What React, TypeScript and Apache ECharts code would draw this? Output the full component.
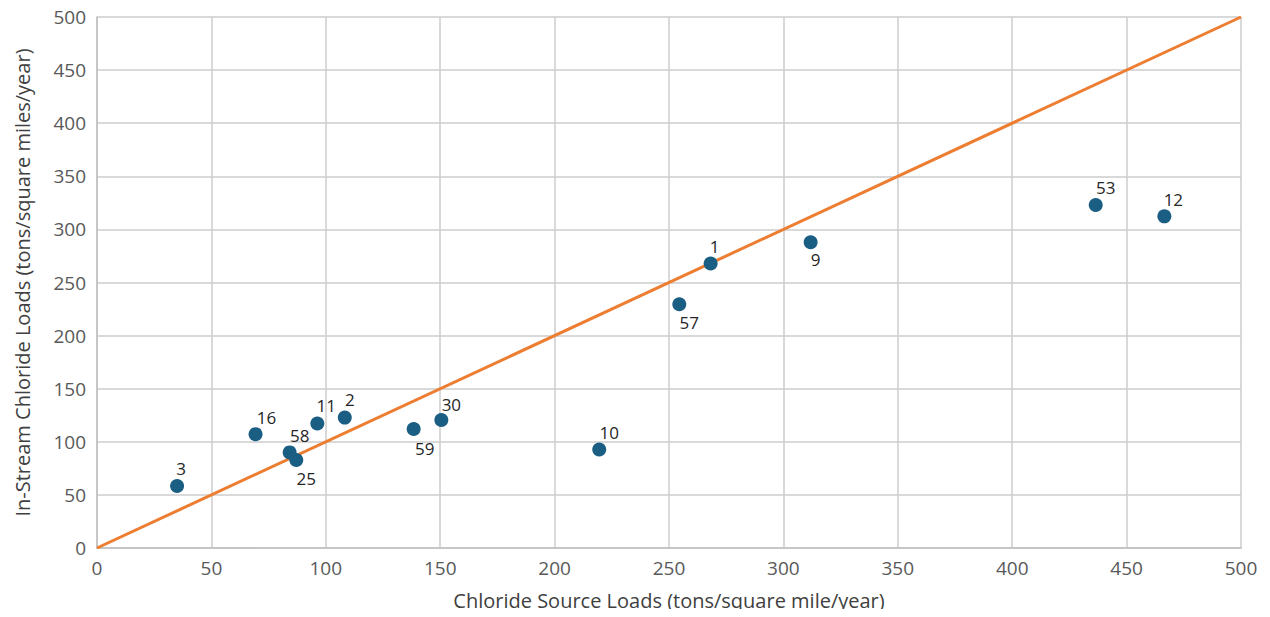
import React, { useEffect, useRef } from "react";
import * as echarts from "echarts";

const siteIds = ["3", "16", "58", "25", "11", "2", "59", "30", "10", "57", "1", "9", "53", "12"];
const sourceLoads = [35.0, 69.3, 84.2, 87.1, 96.3, 108.3, 138.4, 150.5, 219.5, 254.5, 268.2, 311.9, 436.5, 466.5];
const instreamLoads = [58.4, 107.2, 90.0, 82.9, 117.2, 122.8, 112.0, 120.5, 92.8, 229.5, 267.9, 287.9, 323.0, 312.3];
const oneToOneLine = [
  [0, 0],
  [500, 500],
];
const axisTicks = { min: 0, max: 500, interval: 50 };

// label placement (pixel offsets from the marker centre), layout only
const labelOffsets: Record<string, [number, number]> = {
  "3": [4, -17],
  "16": [11, -17],
  "58": [10, -17],
  "25": [10, 19],
  "11": [9, -18],
  "2": [5, -18],
  "59": [11, 19],
  "30": [10, -16],
  "10": [10, -17],
  "57": [10, 18],
  "1": [4, -17],
  "9": [5, 17],
  "53": [10, -17],
  "12": [9, -17],
};

const FONT = "'Open Sans', 'Noto Sans', sans-serif";

export default function App() {
  const ref = useRef<HTMLDivElement>(null);
  useEffect(() => {
    if (!ref.current) return;
    const chart = echarts.init(ref.current, undefined, { renderer: "svg" });
    const points = siteIds.map((id, i) => ({
      value: [sourceLoads[i], instreamLoads[i]],
      name: id,
      label: {
        show: true,
        formatter: id,
        position: "inside",
        offset: labelOffsets[id],
        align: "center",
        verticalAlign: "middle",
        color: "#262626",
        fontSize: 17,
        fontFamily: FONT,
      },
    }));
    chart.setOption({
      animation: false,
      textStyle: { fontFamily: FONT },
      grid: {
        left: 97,
        right: 29,
        top: 17,
        bottom: 69,
        containLabel: false,
        outerBoundsMode: "none",
      },
      xAxis: {
        type: "value",
        ...axisTicks,
        name: "Chloride Source Loads (tons/square mile/year)",
        nameLocation: "middle",
        nameGap: 42,
        nameTextStyle: { color: "#404040", fontSize: 20, fontFamily: FONT },
        axisLine: { show: true, lineStyle: { color: "#bfbfbf", width: 1.5 } },
        axisTick: { show: false },
        axisLabel: { color: "#595959", fontSize: 19, margin: 10, fontFamily: FONT },
        splitLine: { show: true, lineStyle: { color: "#cccccc", width: 1.5 } },
      },
      yAxis: {
        type: "value",
        ...axisTicks,
        name: "In-Stream Chloride Loads (tons/square miles/year)",
        nameLocation: "middle",
        nameGap: 65,
        nameTextStyle: { color: "#404040", fontSize: 20, fontFamily: FONT },
        axisLine: { show: true, lineStyle: { color: "#bfbfbf", width: 1.5 } },
        axisTick: { show: false },
        axisLabel: { color: "#595959", fontSize: 19, margin: 11, fontFamily: FONT },
        splitLine: { show: true, lineStyle: { color: "#cccccc", width: 1.5 } },
      },
      series: [
        {
          type: "line",
          data: oneToOneLine,
          showSymbol: false,
          symbol: "none",
          lineStyle: { color: "#ED7D31", width: 3 },
          silent: true,
          z: 2,
        },
        {
          type: "scatter",
          data: points,
          symbolSize: 14,
          itemStyle: { color: "#1B5E84", opacity: 1 },
          z: 3,
        },
      ],
    });
    return () => chart.dispose();
  }, []);
  return (
    <div
      ref={ref}
      style={{ width: 1270, height: 617, margin: -8, position: "relative" }}
    />
  );
}
